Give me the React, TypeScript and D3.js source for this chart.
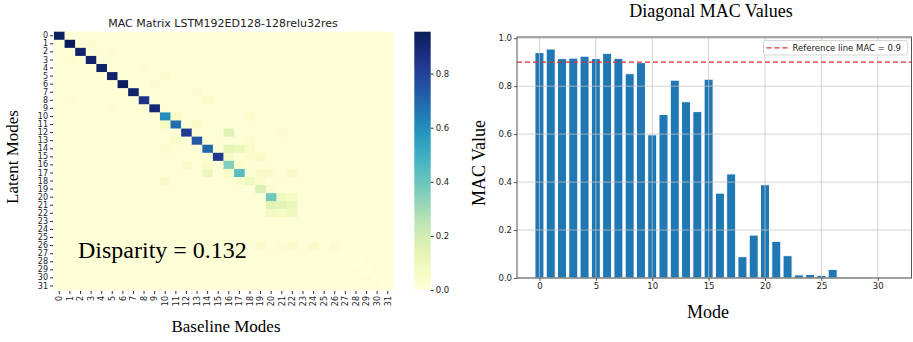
import React, { useEffect, useRef } from 'react';
import * as d3 from 'd3';

// Diagonal MAC values per mode
const modeLabels = [0, 1, 2, 3, 4, 5, 6, 7, 8, 9, 10, 11, 12, 13, 14, 15, 16, 17, 18, 19, 20, 21, 22, 23, 24, 25, 26, 27, 28, 29, 30, 31];
const diagonalMAC = [
  0.94, 0.955, 0.915, 0.917, 0.925, 0.915, 0.937, 0.916, 0.852, 0.898,
  0.597, 0.682, 0.825, 0.735, 0.694, 0.829, 0.354, 0.434, 0.089, 0.179,
  0.389, 0.153, 0.093, 0.013, 0.015, 0.011, 0.036, 0.001, 0.001, 0.001,
  0.003, 0.002,
];

// Off-diagonal MAC entries that show up in the matrix: [row, col, value]
const offDiagonal: [number, number, number][] = [
  [1, 3, 0.03], [2, 5, 0.025], [3, 1, 0.025], [4, 8, 0.03], [5, 10, 0.03], [6, 9, 0.03],
  [7, 13, 0.03], [8, 14, 0.045], [8, 1, 0.025], [9, 5, 0.025],
  [10, 11, 0.05], [10, 18, 0.05], [11, 10, 0.07], [11, 13, 0.05],
  [12, 16, 0.16], [12, 21, 0.03], [13, 11, 0.05], [13, 18, 0.04],
  [14, 10, 0.03], [14, 16, 0.13], [14, 17, 0.11], [14, 18, 0.05],
  [15, 16, 0.07], [15, 18, 0.04], [15, 19, 0.05],
  [16, 12, 0.045], [16, 14, 0.05], [16, 17, 0.04],
  [17, 14, 0.1], [17, 16, 0.05], [17, 19, 0.05], [17, 20, 0.045], [17, 22, 0.045],
  [18, 10, 0.045], [18, 17, 0.03], [18, 19, 0.04],
  [19, 20, 0.03], [20, 21, 0.09], [20, 22, 0.07],
  [21, 20, 0.15], [21, 22, 0.12], [22, 20, 0.08], [22, 21, 0.07],
  [26, 19, 0.04], [26, 21, 0.03], [26, 22, 0.04], [26, 24, 0.05],
];
const backgroundMAC = 0.012;

const barTicks = [0, 5, 10, 15, 20, 25, 30];
const valueTicks = [0, 0.2, 0.4, 0.6, 0.8, 1.0];
const colorbarTicks = [0, 0.2, 0.4, 0.6, 0.8];
const referenceMAC = 0.9;

const SANS = '"DejaVu Sans", sans-serif';
const SERIF = '"Liberation Serif", "Times New Roman", serif';

function MacFigure({ width = 913, height = 342 }) {
  const svgRef = useRef<SVGSVGElement>(null);

  useEffect(() => {
    const svg = d3.select(svgRef.current);
    svg.selectAll('*').remove();
    svg.attr('width', width).attr('height', height);

    // ---------- Left: MAC matrix heatmap ----------
    const hm = { left: 54, right: 393, top: 31.7, bottom: 290 };
    const col = d3.scaleBand<number>().domain(modeLabels).range([hm.left, hm.right]);
    const row = d3.scaleBand<number>().domain(modeLabels).range([hm.top, hm.bottom]);
    const vmax = d3.max(diagonalMAC) as number;
    const color = d3.scaleSequential(d3.interpolateYlGnBu).domain([0, vmax]);

    const cells: { r: number; c: number; v: number }[] = [];
    modeLabels.forEach(r => modeLabels.forEach(c => {
      cells.push({ r, c, v: r === c ? diagonalMAC[r] : backgroundMAC });
    }));
    offDiagonal.forEach(([r, c, v]) => { cells[r * modeLabels.length + c].v = v; });

    svg.append('g')
      .selectAll('rect')
      .data(cells)
      .join('rect')
      .attr('x', d => col(d.c)!)
      .attr('y', d => row(d.r)!)
      .attr('width', col.bandwidth() + 0.3)
      .attr('height', row.bandwidth() + 0.3)
      .attr('fill', d => color(d.v));

    const yAx = svg.append('g')
      .attr('transform', `translate(${hm.left - 1},0)`)
      .call(d3.axisLeft(row).tickSize(3).tickPadding(2));
    yAx.select('.domain').remove();
    yAx.selectAll('line').attr('stroke', '#333');
    yAx.selectAll('text').attr('font-family', SANS).attr('font-size', 8).attr('fill', '#222');

    const xAx = svg.append('g')
      .attr('transform', `translate(0,${hm.bottom + 1})`)
      .call(d3.axisBottom(col).tickSize(3));
    xAx.select('.domain').remove();
    xAx.selectAll('line').attr('stroke', '#333');
    xAx.selectAll('text')
      .attr('font-family', SANS).attr('font-size', 8).attr('fill', '#222')
      .attr('transform', 'rotate(-90)')
      .attr('x', -5).attr('y', 0).attr('dy', '0.35em')
      .style('text-anchor', 'end');

    svg.append('text')
      .attr('x', 223).attr('y', 27)
      .attr('text-anchor', 'middle')
      .attr('font-family', SANS).attr('font-size', 11).attr('fill', '#222')
      .text('MAC Matrix LSTM192ED128-128relu32res');

    svg.append('text')
      .attr('x', 78).attr('y', 258)
      .attr('font-family', SERIF).attr('font-size', 24).attr('fill', '#000')
      .text('Disparity = 0.132');

    svg.append('text')
      .attr('transform', 'translate(17.5,157) rotate(-90)')
      .attr('text-anchor', 'middle')
      .attr('font-family', SERIF).attr('font-size', 17).attr('fill', '#000')
      .text('Latent Modes');

    svg.append('text')
      .attr('x', 226).attr('y', 331.5)
      .attr('text-anchor', 'middle')
      .attr('font-family', SERIF).attr('font-size', 17).attr('fill', '#000')
      .text('Baseline Modes');

    // Colorbar
    const cb = { x: 414.3, w: 16.4 };
    const cbScale = d3.scaleLinear().domain([0, vmax]).range([hm.bottom, hm.top]);
    const grad = svg.append('defs').append('linearGradient')
      .attr('id', 'cbGrad').attr('x1', 0).attr('y1', 1).attr('x2', 0).attr('y2', 0);
    d3.range(0, 1.0001, 0.05).forEach(t => {
      grad.append('stop').attr('offset', t).attr('stop-color', color(t * vmax));
    });
    svg.append('rect')
      .attr('x', cb.x).attr('y', hm.top)
      .attr('width', cb.w).attr('height', hm.bottom - hm.top)
      .attr('fill', 'url(#cbGrad)');
    const cbAx = svg.append('g')
      .attr('transform', `translate(${cb.x + cb.w},0)`)
      .call(d3.axisRight(cbScale).tickValues(colorbarTicks).tickFormat(d3.format('.1f')).tickSize(3).tickPadding(2));
    cbAx.select('.domain').remove();
    cbAx.selectAll('line').attr('stroke', '#333');
    cbAx.selectAll('text').attr('font-family', SANS).attr('font-size', 8.5).attr('fill', '#222');

    // ---------- Right: diagonal MAC bar chart ----------
    const bc = { left: 517, right: 911.5, top: 37, bottom: 278 };
    const x = d3.scaleLinear().domain([-1.99, 32.99]).range([bc.left, bc.right]);
    const y = d3.scaleLinear().domain([0, 1.005]).range([bc.bottom, bc.top]);

    svg.append('g')
      .selectAll('rect')
      .data(diagonalMAC)
      .join('rect')
      .attr('x', (d, i) => x(modeLabels[i] - 0.4))
      .attr('y', d => y(d))
      .attr('width', x(0.8) - x(0))
      .attr('height', d => y(0) - y(d))
      .attr('fill', '#1f77b4')
      .attr('stroke', '#ffffff')
      .attr('stroke-width', 1);

    const grid = svg.append('g').attr('stroke', '#c4c4c4').attr('stroke-opacity', 0.75).attr('stroke-width', 1);
    grid.selectAll('.gx').data(barTicks).join('line')
      .attr('x1', d => x(d)).attr('x2', d => x(d))
      .attr('y1', bc.top).attr('y2', bc.bottom);
    grid.selectAll('.gy').data(valueTicks).join('line')
      .attr('x1', bc.left).attr('x2', bc.right)
      .attr('y1', d => y(d)).attr('y2', d => y(d));

    svg.append('line')
      .attr('x1', bc.left).attr('x2', bc.right)
      .attr('y1', y(referenceMAC)).attr('y2', y(referenceMAC))
      .attr('stroke', '#e03030').attr('stroke-width', 1.3)
      .attr('stroke-dasharray', '5,3');

    svg.append('rect')
      .attr('x', bc.left).attr('y', bc.top)
      .attr('width', bc.right - bc.left).attr('height', bc.bottom - bc.top)
      .attr('fill', 'none').attr('stroke', '#555').attr('stroke-width', 1);

    const bx = svg.append('g')
      .attr('transform', `translate(0,${bc.bottom})`)
      .call(d3.axisBottom(x).tickValues(barTicks).tickSize(3).tickPadding(2));
    bx.select('.domain').remove();
    bx.selectAll('line').attr('stroke', '#555');
    bx.selectAll('text').attr('font-family', SANS).attr('font-size', 8.5).attr('fill', '#222');

    const by = svg.append('g')
      .attr('transform', `translate(${bc.left},0)`)
      .call(d3.axisLeft(y).tickValues(valueTicks).tickFormat(d3.format('.1f')).tickSize(3).tickPadding(2));
    by.select('.domain').remove();
    by.selectAll('line').attr('stroke', '#555');
    by.selectAll('text').attr('font-family', SANS).attr('font-size', 8.5).attr('fill', '#222');

    // Legend
    const lg = svg.append('g').attr('transform', 'translate(763.5,40.5)');
    lg.append('rect')
      .attr('width', 144).attr('height', 14.5).attr('rx', 2)
      .attr('fill', '#fff').attr('fill-opacity', 0.85)
      .attr('stroke', '#ccc').attr('stroke-width', 0.8);
    lg.append('line')
      .attr('x1', 3).attr('x2', 25).attr('y1', 7.3).attr('y2', 7.3)
      .attr('stroke', '#e03030').attr('stroke-width', 1.3).attr('stroke-dasharray', '5,3');
    lg.append('text')
      .attr('x', 29).attr('y', 10.5)
      .attr('font-family', SANS).attr('font-size', 8.5).attr('fill', '#222')
      .text('Reference line MAC = 0.9');

    svg.append('text')
      .attr('x', 711).attr('y', 17)
      .attr('text-anchor', 'middle')
      .attr('font-family', SERIF).attr('font-size', 18).attr('fill', '#000')
      .text('Diagonal MAC Values');

    svg.append('text')
      .attr('transform', 'translate(485,163) rotate(-90)')
      .attr('text-anchor', 'middle')
      .attr('font-family', SERIF).attr('font-size', 18).attr('fill', '#000')
      .text('MAC Value');

    svg.append('text')
      .attr('x', 708).attr('y', 317.5)
      .attr('text-anchor', 'middle')
      .attr('font-family', SERIF).attr('font-size', 18).attr('fill', '#000')
      .text('Mode');
  }, [width, height]);

  return <svg ref={svgRef} style={{ position: 'absolute', left: 0, top: 0, background: '#fff' }} />;
}

export default function App() {
  return <MacFigure />;
}
